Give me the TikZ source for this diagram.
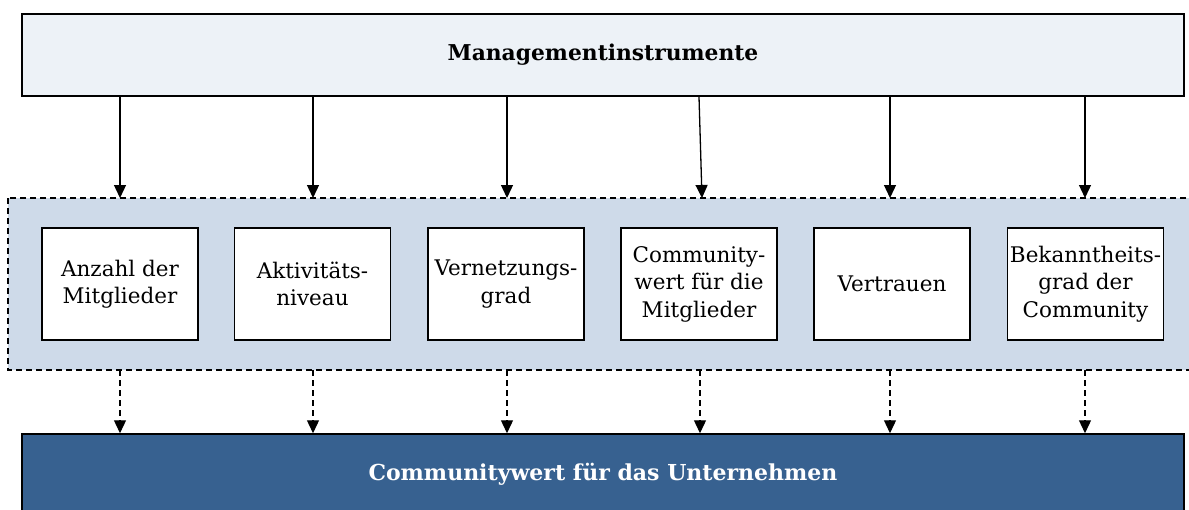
\documentclass[tikz,border=0pt]{standalone}
\usepackage{fontspec}
\setmainfont{DejaVu Serif}
\usetikzlibrary{arrows.meta}
\definecolor{topfill}{HTML}{EDF2F7}
\definecolor{contfill}{HTML}{CEDAE9}
\definecolor{botfill}{HTML}{376190}
\tikzset{
  x=1pt,y=-1pt,
  bigbox/.style={draw=black,line width=1.5pt,minimum width=1162pt,inner sep=0pt},
  itembox/.style={draw=black,fill=white,line width=1.4pt,minimum width=156pt,minimum height=112pt,align=center,inner sep=1pt,font=\fontsize{21.5}{27.5}\selectfont},
  solidarrow/.style={line width=1.3pt,-{Triangle[width=12pt,length=13pt]}},
  dasharrow/.style={line width=1.3pt,dash pattern=on 6pt off 4pt,-{Triangle[width=12pt,length=13pt]}},
}
\begin{document}
\begin{tikzpicture}
\useasboundingbox (0,0) rectangle (1189,509);
\begin{scope}
\clip (0,0) rectangle (1189,509);
\node[bigbox,fill=topfill,minimum height=82pt,font=\fontsize{21.8}{25}\selectfont\bfseries] (top) at (603,55) {Managementinstrumente};
\draw[fill=contfill,line width=1.3pt,dash pattern=on 6pt off 4pt] (8,198) rectangle (1200,370);
\coordinate (ctop) at (600,198);
\coordinate (cbot) at (600,370);
\node[bigbox,fill=botfill,minimum height=90pt] (bot) at (603,479) {};
\node[text=white,font=\fontsize{22}{25}\selectfont\bfseries] (bottxt) at (603,474) {Communitywert für das Unternehmen};
\node[itembox] (b1) at (120,284) {Anzahl der\\Mitglieder};
\node[itembox] (b2) at (312.5,284) {Aktivitäts-\\niveau};
\node[itembox] (b3) at (506,284) {Vernetzungs-\\grad};
\node[itembox] (b4) at (699,284) {Community-\\wert für die\\Mitglieder};
\node[itembox] (b5) at (892,284) {Vertrauen};
\node[itembox] (b6) at (1085.5,284) {Bekanntheits-\\grad der\\Community};
\foreach \b/\xx in {b1/120,b2/313,b3/507,b5/890,b6/1085}{
  \draw[solidarrow] (top.south -| \xx,0) -- (ctop -| \xx,0);
  \draw[dasharrow] (cbot -| \xx,0) -- (bot.north -| \xx,0);
}
\draw[solidarrow] (top.south -| 699,0) -- (ctop -| 702,0);
\draw[dasharrow] (cbot -| 700,0) -- (bot.north -| 700,0);
\end{scope}
\end{tikzpicture}
\end{document}
